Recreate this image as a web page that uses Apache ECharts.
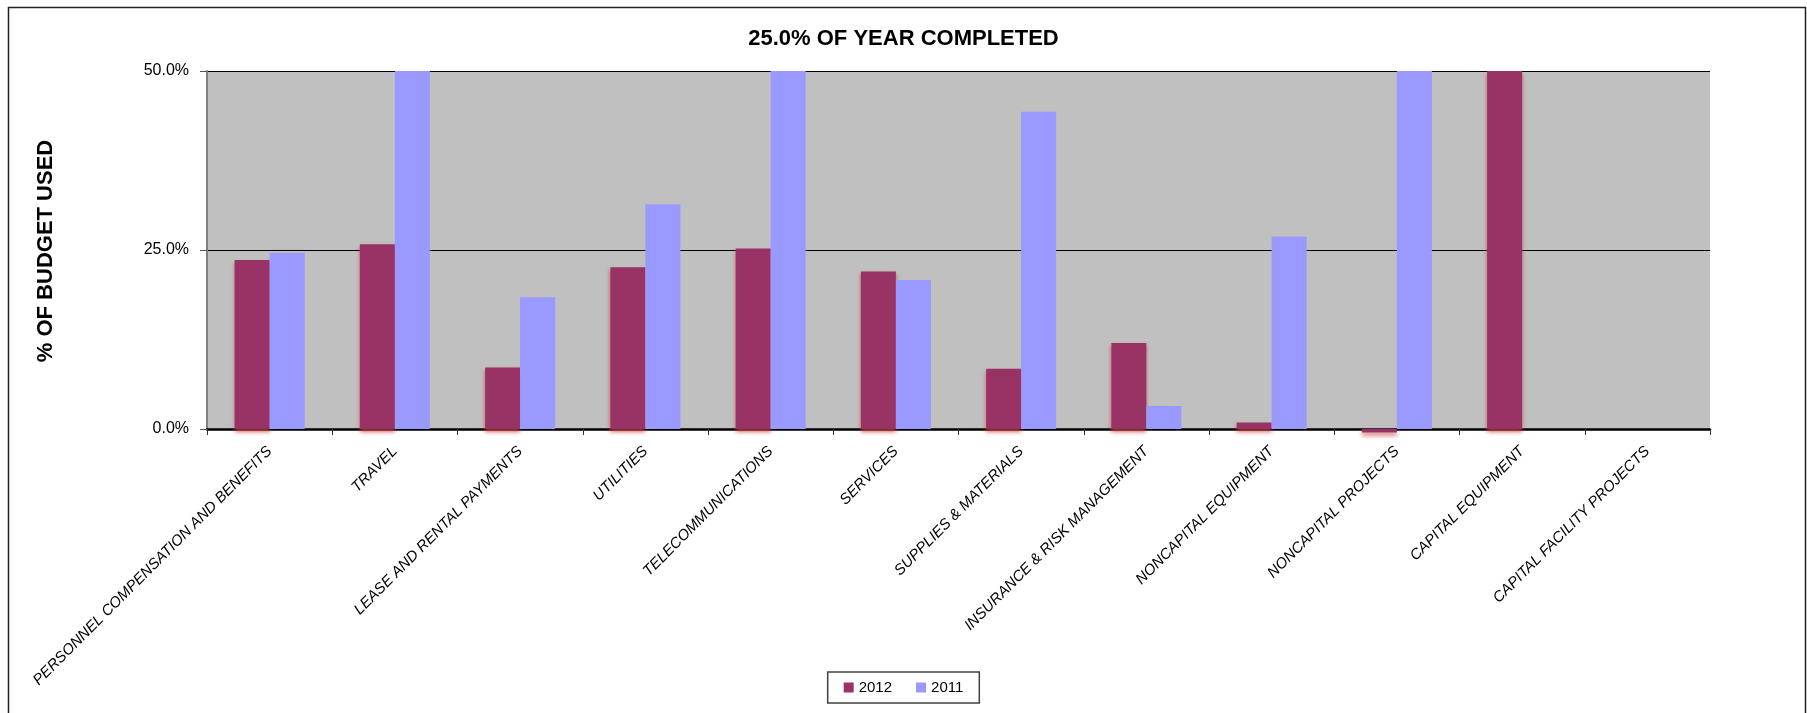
<!DOCTYPE html>
<html>
<head>
<meta charset="utf-8">
<script src="https://cdn.jsdelivr.net/npm/echarts@6/dist/echarts.min.js"></script>
<style>
html,body{margin:0;padding:0;background:#fff;}
#main{width:1807px;height:713px;}
</style>
</head>
<body>
<div id="main"></div>
<script>
const categories = [
  'PERSONNEL COMPENSATION AND BENEFITS','TRAVEL','LEASE AND RENTAL PAYMENTS','UTILITIES',
  'TELECOMMUNICATIONS','SERVICES','SUPPLIES & MATERIALS','INSURANCE & RISK MANAGEMENT',
  'NONCAPITAL EQUIPMENT','NONCAPITAL PROJECTS','CAPITAL EQUIPMENT','CAPITAL FACILITY PROJECTS'
];
const values2012 = [23.6, 25.8, 8.6, 22.6, 25.2, 22.0, 8.4, 12.0, 0.9, -0.5, 50, null];
const values2011 = [24.6, 50, 18.4, 31.4, 50, 20.8, 44.3, 3.2, 26.9, 50, null, null];
const yTicks = [0, 25, 50];

const chart = echarts.init(document.getElementById('main'));
const FONT = 'Liberation Sans';
chart.setOption({
  animation: false,
  backgroundColor: '#fff',
  title: {
    text: '25.0% OF YEAR COMPLETED',
    left: 'center',
    top: 23,
    textStyle: {fontFamily: FONT, fontWeight: 'bold', fontSize: 22, color: '#000'}
  },
  legend: {
    data: ['2012', '2011'],
    left: 'center',
    top: 672,
    orient: 'horizontal',
    itemWidth: 10,
    itemHeight: 10,
    itemGap: 24,
    icon: 'rect',
    padding: [8, 16, 8, 16],
    borderColor: '#404040',
    borderWidth: 1.5,
    textStyle: {fontFamily: FONT, fontSize: 15, color: '#000'}
  },
  grid: {
    left: 207, right: 97, top: 71, bottom: 284,
    show: true, backgroundColor: '#C0C0C0', borderWidth: 0
  },
  xAxis: {
    type: 'category',
    data: categories,
    axisLine: {lineStyle: {color: '#000', width: 2.5}},
    axisTick: {show: true, length: 6, lineStyle: {color: '#333', width: 1}},
    axisLabel: {
      interval: 0, rotate: 45, margin: 20,
      fontFamily: FONT, fontStyle: 'italic', fontSize: 15, color: '#000'
    }
  },
  yAxis: {
    type: 'value',
    min: yTicks[0], max: yTicks[yTicks.length - 1], interval: 25,
    axisLine: {show: true, lineStyle: {color: '#808080', width: 2}},
    axisTick: {show: true, length: 7, lineStyle: {color: '#555', width: 1}},
    axisLabel: {
      formatter: v => v.toFixed(1) + '%',
      fontFamily: FONT, fontSize: 16, color: '#000', margin: 18
    },
    splitLine: {show: true, lineStyle: {color: '#000', width: 1.2}}
  },
  graphic: [
    {
      type: 'rect', silent: true, z: 100,
      shape: {x: 8.5, y: 7.5, width: 1797, height: 730},
      style: {fill: 'none', stroke: '#222', lineWidth: 1.5}
    },
    {
      type: 'text', silent: true,
      x: 46, y: 251, rotation: Math.PI / 2,
      style: {
        text: '% OF BUDGET USED', fontFamily: FONT, fontWeight: 'bold', fontSize: 22,
        fill: '#000', align: 'center', verticalAlign: 'middle'
      }
    }
  ],
  series: [
    {
      name: '2012', type: 'bar', data: values2012,
      barWidth: 35, barGap: '0%', clip: false,
      itemStyle: {color: '#993366', shadowColor: 'rgba(200,60,60,0.75)', shadowBlur: 4, shadowOffsetY: 3}
    },
    {
      name: '2011', type: 'bar', data: values2011,
      barWidth: 35, barGap: '0%', clip: false,
      itemStyle: {color: '#9999FF'}
    }
  ]
});
</script>
</body>
</html>
